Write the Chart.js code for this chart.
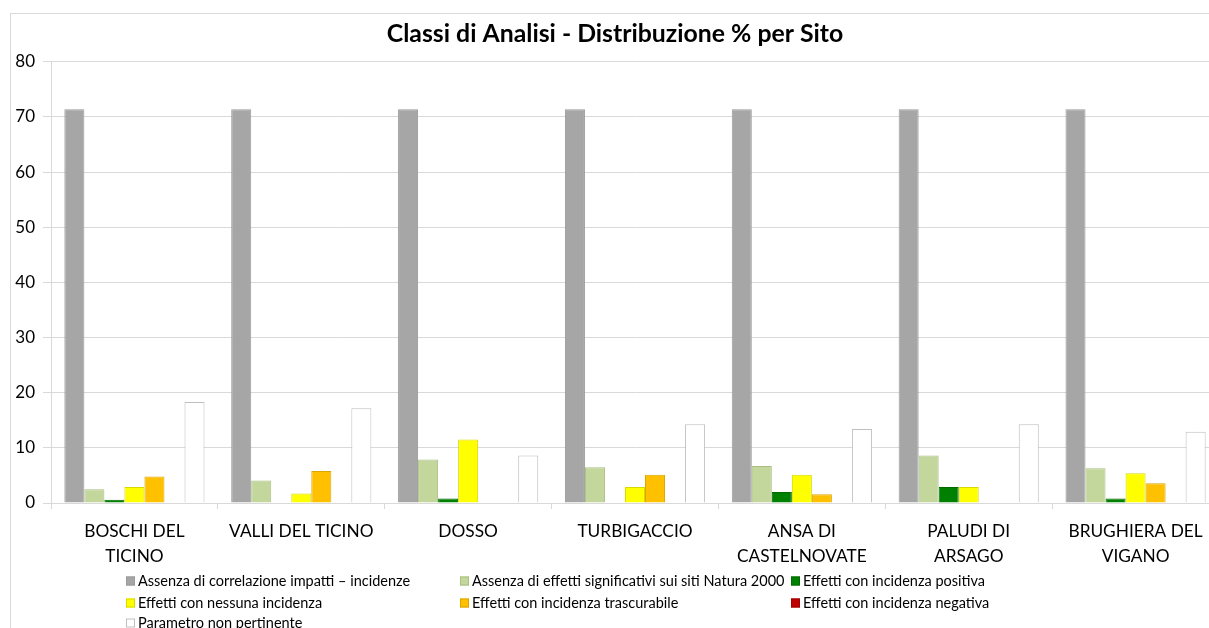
<!DOCTYPE html>
<html>
<head>
<meta charset="utf-8">
<script src="https://cdn.jsdelivr.net/npm/chart.js@4.4.1/dist/chart.umd.min.js"></script>
<style>
  html, body { margin: 0; padding: 0; background: #fff; overflow: hidden; }
  body { width: 1209px; height: 628px; position: relative; }
  #frame {
    position: absolute; left: 10px; top: 13px;
    width: 1208px; height: 615px;
    border-left: 1px solid #d9d9d9; border-top: 1px solid #d9d9d9;
    box-sizing: border-box;
  }
  #wrap { position: absolute; left: 0; top: 0; width: 1208px; height: 615px; }
</style>
</head>
<body>
<div id="frame"><div id="wrap"><canvas id="c"></canvas></div></div>
<script>
// Sites (x categories)
const categories = [
  ['BOSCHI DEL', 'TICINO'],
  'VALLI DEL TICINO',
  'DOSSO',
  'TURBIGACCIO',
  ['ANSA DI', 'CASTELNOVATE'],
  ['PALUDI DI', 'ARSAGO'],
  ['BRUGHIERA DEL', 'VIGANO']
];

// Percentage of each analysis class per site
const assenzaCorrelazione   = [71.4, 71.4, 71.4, 71.4, 71.4, 71.4, 71.4];
const assenzaEffetti        = [2.5, 4.1, 7.9, 6.5, 6.7, 8.6, 6.3];
const incidenzaPositiva     = [0.6, 0, 0.8, 0, 2.0, 2.9, 0.8];
const nessunaIncidenza      = [2.9, 1.7, 11.5, 2.9, 5.1, 2.9, 5.4];
const incidenzaTrascurabile = [4.8, 5.8, 0, 5.1, 1.6, 0, 3.6];
const incidenzaNegativa     = [0, 0, 0, 0, 0, 0, 0];
const nonPertinente         = [18.3, 17.2, 8.6, 14.3, 13.4, 14.3, 12.9];

// Value axis ticks
const yTicks = [0, 10, 20, 30, 40, 50, 60, 70, 80];

const FONT = 'Lato, "Open Sans", sans-serif';

function series(label, data, fill, border) {
  return {
    label, data,
    backgroundColor: fill,
    borderColor: border,
    borderWidth: ctx => (ctx.raw ? 1 : 0),
    borderSkipped: 'start',
    barPercentage: 1,
    categoryPercentage: 0.84
  };
}

// Three-column legend drawn under the axis
const gridLegend = {
  id: 'gridLegend',
  afterDraw(chart) {
    const ctx = chart.ctx;
    const colX = [115, 449, 780];
    const rowY = [567, 589, 609];
    ctx.save();
    ctx.font = '14.5px ' + FONT;
    ctx.textBaseline = 'middle';
    chart.data.datasets.forEach((ds, i) => {
      const x = colX[i % 3];
      const y = rowY[Math.floor(i / 3)];
      ctx.fillStyle = ds.backgroundColor;
      ctx.fillRect(x, y - 4.5, 9, 9);
      ctx.strokeStyle = ds.borderColor;
      ctx.lineWidth = 1;
      ctx.strokeRect(x + 0.5, y - 4, 8, 8);
      ctx.fillStyle = '#000';
      ctx.fillText(ds.label, x + 12, y);
    });
    ctx.restore();
  }
};

new Chart(document.getElementById('c'), {
  type: 'bar',
  data: {
    labels: categories,
    datasets: [
      series('Assenza di correlazione impatti \u2013 incidenze', assenzaCorrelazione, '#a6a6a6', '#9a9a9a'),
      series('Assenza di effetti significativi sui siti Natura 2000', assenzaEffetti, '#c3d69b', '#a9bf82'),
      series('Effetti con incidenza positiva', incidenzaPositiva, '#008000', '#006a00'),
      series('Effetti con nessuna incidenza', nessunaIncidenza, '#ffff00', '#d9d900'),
      series('Effetti con incidenza trascurabile', incidenzaTrascurabile, '#ffc000', '#dba500'),
      series('Effetti con incidenza negativa', incidenzaNegativa, '#c00000', '#a00000'),
      series('Parametro non pertinente', nonPertinente, '#ffffff', '#bfbfbf')
    ]
  },
  options: {
    responsive: true,
    maintainAspectRatio: false,
    animation: false,
    layout: { padding: { left: 0, right: 0, top: 0, bottom: 64 } },
    plugins: {
      legend: { display: false },
      tooltip: { enabled: false },
      title: {
        display: true,
        text: 'Classi di Analisi - Distribuzione % per Sito',
        color: '#000',
        font: { family: FONT, size: 24.8, weight: 'bold', lineHeight: 1.2 },
        padding: { top: 5, bottom: 13 }
      }
    },
    scales: {
      x: {
        offset: true,
        grid: {
          offset: true,
          drawOnChartArea: false,
          drawTicks: true,
          tickLength: 6,
          color: '#d9d9d9'
        },
        border: { color: '#d9d9d9' },
        ticks: {
          color: '#000',
          font: { family: FONT, size: 17.3, lineHeight: 1.45 },
          padding: 10,
          maxRotation: 0,
          autoSkip: false
        },
        afterFit(scale) { scale.height = 62; }
      },
      y: {
        min: 0,
        max: 80,
        afterBuildTicks(scale) { scale.ticks = yTicks.map(v => ({ value: v })); },
        grid: { color: '#d9d9d9', tickLength: 8 },
        border: { color: '#d9d9d9' },
        ticks: {
          color: '#000',
          font: { family: FONT, size: 17 },
          padding: 8
        },
        afterFit(scale) { scale.width = 40; }
      }
    }
  },
  plugins: [gridLegend]
});
</script>
</body>
</html>
